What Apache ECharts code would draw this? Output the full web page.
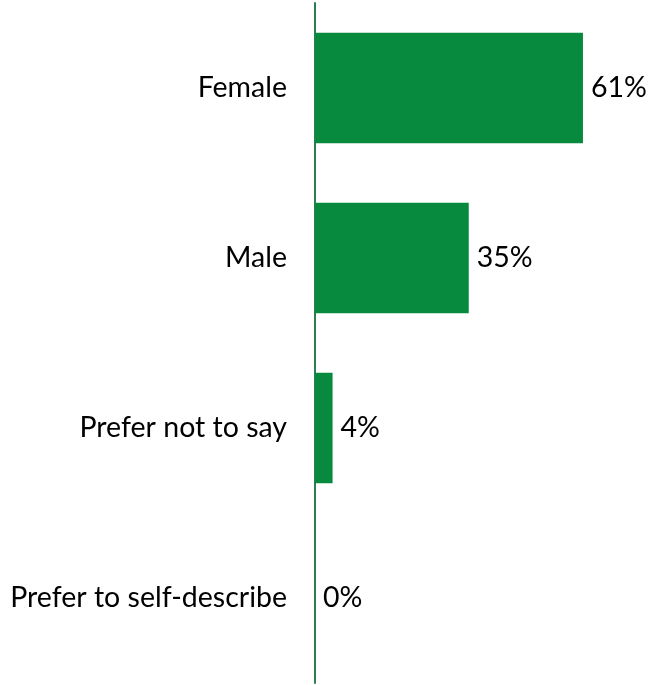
<!DOCTYPE html>
<html>
<head>
<meta charset="utf-8">
<script src="https://cdn.jsdelivr.net/npm/echarts@6/dist/echarts.min.js"></script>
<style>html,body{margin:0;padding:0;background:#fff}#c{width:653px;height:685px}</style>
</head>
<body>
<div id="c"></div>
<script>
const categories = ["Female", "Male", "Prefer not to say", "Prefer to self-describe"];
const values = [61, 35, 4, 0];

const chart = echarts.init(document.getElementById('c'), null, {renderer: 'canvas'});
chart.setOption({
  animation: false,
  grid: {left: 315, right: 30.5, top: 3, bottom: 2, containLabel: false},
  xAxis: {type: 'value', min: 0, max: 70, show: false},
  yAxis: {
    type: 'category', data: categories, inverse: true,
    axisLine: {show: true, lineStyle: {color: '#2E7D4F', width: 2}},
    axisTick: {show: false},
    axisLabel: {margin: 28, fontFamily: 'Lato', fontSize: 28.5, color: '#000'}
  },
  series: [{
    type: 'bar', data: values, barWidth: '65%',
    itemStyle: {color: '#078A3E'},
    label: {show: true, position: 'right', distance: 8, formatter: '{c}%', fontFamily: 'Lato', fontSize: 28.5, color: '#000'}
  }]
});
</script>
</body>
</html>
